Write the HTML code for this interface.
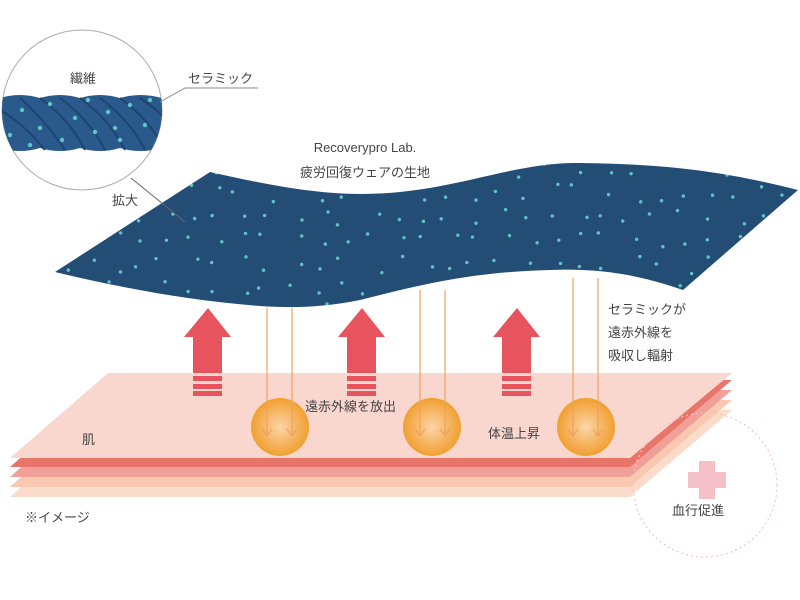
<!DOCTYPE html>
<html><head><meta charset="utf-8"><style>
body{margin:0;background:#fff}
svg{display:block}
text{font-family:"Liberation Sans","Noto Sans CJK JP",sans-serif;fill:#444;font-size:13px}
</style></head><body>
<svg id="s" width="800" height="600" viewBox="0 0 800 600" xmlns="http://www.w3.org/2000/svg">
<defs>
<radialGradient id="ball" cx="50%" cy="50%" r="50%">
<stop offset="0" stop-color="#fad6a8"/><stop offset="0.6" stop-color="#f6b460"/><stop offset="1" stop-color="#f0a030"/>
</radialGradient>
<clipPath id="fab"><path id="fp" d="M55,272 L210,172 C290,190 340,198 400,192 C470,185 520,162 580,163 C660,164 720,170 798,190 L683,290 C640,275 600,268 550,270 C470,272 420,285 360,300 C320,308 290,308 260,306 C180,300 110,285 55,272 Z"/></clipPath>
<clipPath id="circ"><circle cx="82" cy="110" r="80"/></clipPath>
</defs>
<polygon points="10,497 108,410 732,410 630,497" fill="#fbdccb"/>
<polygon points="10,487 108,400 732,400 630,487" fill="#f8c8b0"/>
<polygon points="10,477 108,390 732,390 630,477" fill="#f0a098"/>
<polygon points="10,467 108,380 732,380 630,467" fill="#e8756a"/>
<polygon points="10,458 108,373 732,373 630,458" fill="#f9d6ce"/>
<circle cx="705" cy="485" r="72" fill="none" stroke="#f3c4c4" stroke-width="1.2" stroke-dasharray="2 3"/>
<rect x="699" y="461" width="16" height="38" fill="#f5c0c8"/>
<rect x="688" y="472" width="38" height="16" fill="#f5c0c8"/>
<use href="#fp" fill="#234d75"/>
<g id="dots" clip-path="url(#fab)" fill="#5ec4c8"></g>
<g fill="#e8545e">
<g id="ar"><polygon points="208,308 231,337 222,337 222,373 193,373 193,337 184,337"/>
<rect x="193" y="376" width="29" height="5"/><rect x="193" y="384" width="29" height="5"/><rect x="193" y="391" width="29" height="5"/></g>
<use href="#ar" x="154"/><use href="#ar" x="309"/>
</g>
<circle cx="280" cy="427" r="29" fill="url(#ball)"/>
<circle cx="432" cy="427" r="29" fill="url(#ball)"/>
<circle cx="586" cy="427" r="29" fill="url(#ball)"/>
<g stroke="#f0a060" stroke-width="1.2" fill="none">
<path d="M267,308V436M262,429l5,7l5,-7M292,308V436M287,429l5,7l5,-7"/>
<path d="M420,290V436M415,429l5,7l5,-7M445,290V436M440,429l5,7l5,-7"/>
<path d="M573,278V436M568,429l5,7l5,-7M598,278V436M593,429l5,7l5,-7"/>
</g>
<circle cx="82" cy="110" r="80" fill="#fff" stroke="#aaa" stroke-width="1"/>
<g clip-path="url(#circ)">
<path d="M0,98 Q20,92 40,98 Q60,92 80,98 Q100,92 120,98 Q140,92 162,98 L162,148 Q140,154 120,148 Q100,154 80,148 Q60,154 40,148 Q20,154 0,148Z" fill="#2a5a8c"/>
<g stroke="#1d4470" stroke-width="2" fill="none">
<path d="M0,110 Q25,125 45,150 M20,98 Q45,120 65,150 M40,98 Q70,120 85,150 M60,98 Q90,120 105,150 M80,98 Q110,120 125,150 M100,98 Q130,120 145,150 M120,98 Q150,120 165,150 M140,98 Q165,115 175,130"/>
</g>
<g id="rdots" fill="#5ec4c8"></g>
</g>
<path d="M160,102 L185,88 L258,88" stroke="#888" fill="none"/>
<path d="M131,178 L185,222" stroke="#666" fill="none"/>
<text x="70" y="83">繊維</text>
<text x="188" y="83">セラミック</text>
<text x="112" y="205">拡大</text>
<text x="365" y="152" text-anchor="middle">Recoverypro Lab.</text>
<text x="365" y="177" text-anchor="middle">疲労回復ウェアの生地</text>
<text x="608" y="314">セラミックが</text>
<text x="608" y="337">遠赤外線を</text>
<text x="608" y="360">吸収し輻射</text>
<text x="305" y="411">遠赤外線を放出</text>
<text x="488" y="438">体温上昇</text>
<text x="82" y="444">肌</text>
<text x="25" y="522">※イメージ</text>
<text x="672" y="515">血行促進</text>
</svg>
<script>
var s=12345;function r(){s=(s*16807)%2147483647;return s/2147483647;}
var g=document.getElementById('dots'),ns='http://www.w3.org/2000/svg';
for(var x=50;x<800;x+=26){for(var y=160;y<310;y+=24){var c=document.createElementNS(ns,'circle');c.setAttribute('cx',x+r()*20);c.setAttribute('cy',y+r()*18);c.setAttribute('r',1.7);g.appendChild(c);}}
var h=document.getElementById('rdots');
var rp=[[10,135],[22,110],[40,128],[50,104],[62,140],[75,118],[88,100],[95,132],[108,112],[120,140],[130,105],[145,125],[150,100],[30,145],[115,128]];
for(var i=0;i<rp.length;i++){var c=document.createElementNS(ns,'circle');c.setAttribute('cx',rp[i][0]);c.setAttribute('cy',rp[i][1]);c.setAttribute('r',2.2);h.appendChild(c);}
</script>
</body></html>
